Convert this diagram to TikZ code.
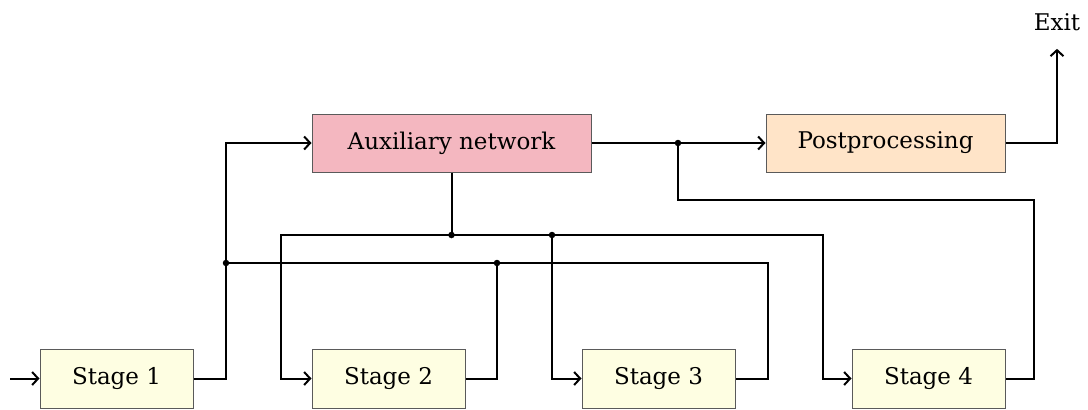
\documentclass[tikz,border=0pt]{standalone}
\usepackage{fontspec}
\setmainfont{DejaVu Serif}
\usetikzlibrary{arrows.meta}
\definecolor{stagefill}{RGB}{254,254,226}
\definecolor{auxfill}{RGB}{244,183,192}
\definecolor{postfill}{RGB}{255,228,200}
\definecolor{edge}{RGB}{90,90,90}
\begin{document}
\begin{tikzpicture}[x=1pt,y=-1pt,
  block/.style={draw=edge, line width=1pt, minimum width=153pt, minimum height=59pt,
    inner sep=0pt, font=\fontsize{23}{27}\selectfont},
  wire/.style={line width=2pt, >={Straight Barb[length=6pt,width=13pt,line width=2pt]}},
  dot/.style={circle, fill=black, inner sep=0pt, minimum size=6.5pt}
]
\useasboundingbox (0,0) rectangle (1088,410);

% processing blocks
\node[block, fill=stagefill] (s1) at (116.5,378.5) {Stage 1};
\node[block, fill=stagefill] (s2) at (388.5,378.5) {Stage 2};
\node[block, fill=stagefill] (s3) at (658.5,378.5) {Stage 3};
\node[block, fill=stagefill] (s4) at (928.5,378.5) {Stage 4};
\node[block, fill=auxfill, minimum width=279pt, minimum height=58pt] (aux) at (451.5,143) {Auxiliary network};
\node[block, fill=postfill, minimum width=239pt, minimum height=58pt] (post) at (885.5,143) {Postprocessing};
\node[font=\fontsize{23}{27}\selectfont, inner sep=0pt] (exit) at (1057,22) {Exit};

% junction and corner points
\coordinate (in) at (10,378.5);
\coordinate (j1) at (226,263);
\coordinate (j2) at (497,263);
\coordinate (r3) at (768,378.5);
\coordinate (j3) at (451.5,235);
\coordinate (l2) at (281,235);
\coordinate (r4) at (823,235);
\coordinate (j4) at (552,235);
\coordinate (j5) at (678,143);
\coordinate (r5) at (1034,200);

% connectors
\draw[wire,->] (in) -- (s1);
\draw[wire,->] (s1.east) -| (j1) |- (aux.west);
\draw[wire] (j1) -| (r3) -- (s3.east);
\draw[wire] (s2.east) -| (j2);
\draw[wire] (aux.south) -- (j3);
\draw[wire,<->] (s2.west) -| (l2) -- (r4) |- (s4.west);
\draw[wire,->] (j4) |- (s3.west);
\draw[wire,->] (aux.east) -- (post.west);
\draw[wire] (j5) |- (r5) |- (s4.east);
\draw[wire,->,shorten >=18pt] (post.east) -| (exit.south);

% junction dots
\foreach \p in {j1,j2,j3,j4,j5} \node[dot] at (\p) {};
\end{tikzpicture}
\end{document}
